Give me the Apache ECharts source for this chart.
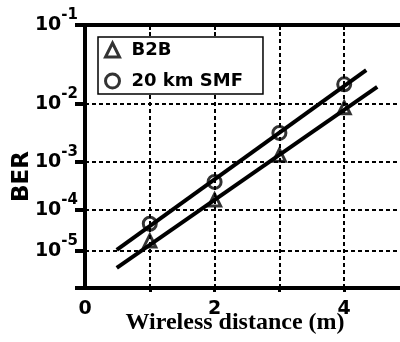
<!DOCTYPE html>
<html><head><meta charset="utf-8">
<script src="https://cdn.jsdelivr.net/npm/echarts@6/dist/echarts.min.js"></script>
<style>html,body{margin:0;padding:0;background:#fff}#c{width:400px;height:342px}</style>
</head><body><div id="c"></div>
<script>
const distances = [1, 2, 3, 4];
const berB2B = [1.8e-5, 1.65e-4, 1.35e-3, 8.8e-3];
const ber20km = [4.7e-5, 4.0e-4, 3.4e-3, 1.95e-2];
const fitB2BX = [0.49, 4.51];
const fitB2BBer = [3.6e-6, 1.79e-2];
const fit20kmX = [0.49, 4.34];
const fit20kmBer = [1.07e-5, 3.03e-2];
const yTickBer = [1e-1, 1e-2, 1e-3, 1e-4, 1e-5, 1e-6];
const yLabelBer = [1e-1, 1e-2, 1e-3, 1e-4, 1e-5];
const yLabelExp = ['-1', '-2', '-3', '-4', '-5'];
const xLabelValues = [0, 2, 4];
const xTickValues = [1, 2, 3, 4];
const seriesNames = ['B2B', '20 km SMF'];

// inverse normal CDF (Acklam) -> Q-factor scale used by the BER axis
function normInv(p) {
  const a = [-3.969683028665376e+01, 2.209460984245205e+02, -2.759285104469687e+02, 1.383577518672690e+02, -3.066479806614716e+01, 2.506628277459239e+00];
  const b = [-5.447609879822406e+01, 1.615858368580409e+02, -1.556989798598866e+02, 6.680131188771972e+01, -1.328068155288572e+01];
  const c = [-7.784894002430293e-03, -3.223964580411365e-01, -2.400758277161838e+00, -2.549732539343734e+00, 4.374664141464968e+00, 2.938163982698783e+00];
  const d = [7.784695709041462e-03, 3.224671290700398e-01, 2.445134137142996e+00, 3.754408661907416e+00];
  const plow = 0.02425;
  let q, r;
  if (p < plow) {
    q = Math.sqrt(-2 * Math.log(p));
    return (((((c[0]*q+c[1])*q+c[2])*q+c[3])*q+c[4])*q+c[5]) / ((((d[0]*q+d[1])*q+d[2])*q+d[3])*q+1);
  } else if (p <= 1 - plow) {
    q = p - 0.5; r = q*q;
    return (((((a[0]*r+a[1])*r+a[2])*r+a[3])*r+a[4])*r+a[5])*q / (((((b[0]*r+b[1])*r+b[2])*r+b[3])*r+b[4])*r+1);
  } else {
    q = Math.sqrt(-2 * Math.log(1 - p));
    return -(((((c[0]*q+c[1])*q+c[2])*q+c[3])*q+c[4])*q+c[5]) / ((((d[0]*q+d[1])*q+d[2])*q+d[3])*q+1);
  }
}
function qOf(ber) { return -normInv(ber); }

const yTickQ = yTickBer.map(qOf);
const yLabelQ = yLabelBer.map(qOf);
const pair = (xs, bers) => xs.map((x, i) => [x, qOf(bers[i])]);

const black = '#000';
const chart = echarts.init(document.getElementById('c'));
chart.setOption({
  animation: false,
  backgroundColor: '#fff',
  grid: { left: 85, top: 25, width: 324, height: 263, containLabel: false, outerBoundsMode: 'none' },
  legend: {
    data: seriesNames,
    orient: 'vertical',
    left: 98, top: 37,
    borderColor: black, borderWidth: 1.5, borderRadius: 0,
    backgroundColor: '#fff',
    padding: [4, 20, 4, 6],
    itemGap: 13, itemWidth: 14, itemHeight: 14,
    selectedMode: false,
    itemStyle: { borderWidth: 3 },
    textStyle: { fontSize: 18, fontWeight: 'bold', fontFamily: 'DejaVu Sans', color: black, padding: [0, 0, 0, 7] }
  },
  xAxis: [{
    type: 'value', min: 0, max: 5, position: 'bottom',
    axisLine: { show: true, lineStyle: { color: black, width: 4 } },
    axisTick: { show: true, customValues: xTickValues, length: 4, lineStyle: { color: black, width: 3 } },
    axisLabel: { customValues: xLabelValues, fontSize: 19, fontWeight: 'bold', fontFamily: 'DejaVu Sans', color: black, margin: 12 },
    splitLine: { show: true, lineStyle: { color: black, width: 2, type: [4, 3] } },
    name: 'Wireless distance (m)', nameLocation: 'middle', nameGap: 23, nameMoveOverlap: false,
    nameTextStyle: { fontSize: 24, fontWeight: 'bold', fontFamily: 'Liberation Serif', color: black, padding: [0, 24, 0, 0] }
  }, {
    type: 'value', min: 0, max: 5, position: 'top',
    axisLine: { show: true, lineStyle: { color: black, width: 4 } },
    axisTick: { show: true, inside: true, customValues: xTickValues, length: 5, lineStyle: { color: black, width: 2 } },
    axisLabel: { show: false },
    splitLine: { show: false }
  }],
  yAxis: {
    type: 'value', inverse: true, min: yTickQ[0], max: yTickQ[yTickQ.length - 1],
    axisLine: { show: true, lineStyle: { color: black, width: 4 } },
    axisTick: { show: true, customValues: yTickQ, length: 10, lineStyle: { color: black, width: 4 } },
    axisLabel: {
      customValues: yLabelQ, margin: 7,
      formatter: function (v) {
        let idx = 0, best = Infinity;
        yLabelQ.forEach((q, i) => { const dd = Math.abs(q - v); if (dd < best) { best = dd; idx = i; } });
        return '{b|10}{s|' + yLabelExp[idx] + '}';
      },
      rich: {
        b: { fontSize: 19, fontWeight: 'bold', fontFamily: 'DejaVu Sans', color: black },
        s: { fontSize: 15, fontWeight: 'bold', fontFamily: 'DejaVu Sans', color: black, padding: [0, 0, 20, 0] }
      }
    },
    splitLine: { show: true, lineStyle: { color: black, width: 2, type: [4, 3] } },
    name: 'BER', nameLocation: 'middle', nameGap: 51, nameMoveOverlap: false,
    nameTextStyle: { fontSize: 23, fontWeight: 'bold', fontFamily: 'DejaVu Sans', color: black, padding: [0, 40, 0, 0] }
  },
  series: [
    { type: 'line', name: 'fitB2B', data: pair(fitB2BX, fitB2BBer), symbol: 'none', lineStyle: { color: black, width: 4 }, z: 3 },
    { type: 'line', name: 'fit20', data: pair(fit20kmX, fit20kmBer), symbol: 'none', lineStyle: { color: black, width: 4 }, z: 3 },
    { type: 'scatter', name: seriesNames[0], data: pair(distances, berB2B), symbol: 'triangle', symbolSize: 12,
      itemStyle: { color: 'rgba(255,255,255,0)', borderColor: black, borderWidth: 3 }, z: 4 },
    { type: 'scatter', name: seriesNames[1], data: pair(distances, ber20km), symbol: 'circle', symbolSize: 13,
      itemStyle: { color: 'rgba(255,255,255,0)', borderColor: black, borderWidth: 3 }, z: 4 }
  ]
});
</script>
</body></html>
